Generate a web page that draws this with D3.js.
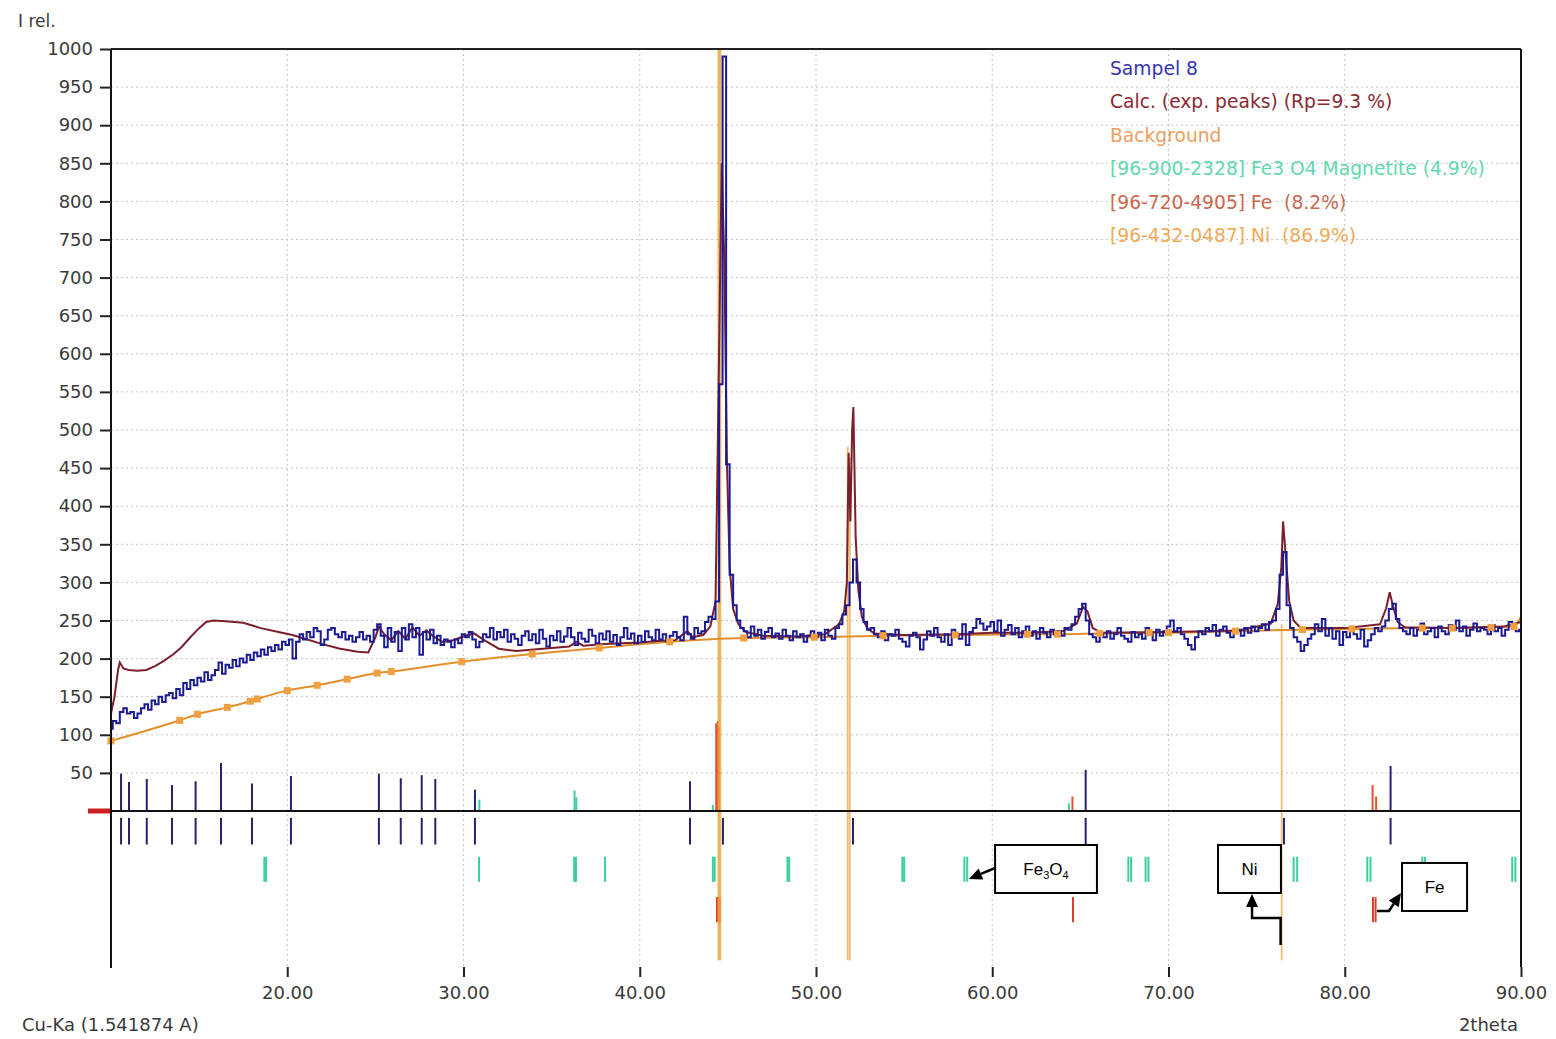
<!DOCTYPE html>
<html><head><meta charset="utf-8">
<script src="https://cdn.jsdelivr.net/npm/d3@7"></script>
<style>body{margin:0;background:#fff}svg{display:block}</style>
</head><body>
<svg id="c" width="1556" height="1039"></svg>
<script>
// ---------------- DATA ----------------
const obsStart = 10, obsStep = 0.2;
const observed = [
108,118,115,130,135,128,130,122,128,135,
140,133,145,140,150,143,152,155,148,160,
152,168,160,172,165,175,170,182,172,178,
185,195,180,192,188,198,190,200,195,205,
198,208,203,212,205,215,210,218,212,222,
218,225,200,222,232,225,235,228,240,236,
218,225,238,240,232,228,235,225,230,222,
228,235,225,230,222,238,245,230,215,240,
222,235,210,240,225,245,228,240,205,235,
225,238,220,230,218,225,222,215,225,220,
232,228,235,225,215,222,232,228,240,225,
235,228,238,222,232,226,218,230,236,224,
232,220,238,226,216,230,224,236,222,229,
240,228,218,234,226,222,238,230,220,233,
225,236,222,231,218,228,240,226,233,220,
230,222,236,228,224,238,225,232,222,230,
235,228,224,255,232,226,240,233,236,248,
255,252,275,560,990,455,310,270,250,240,
236,228,242,230,238,226,235,240,228,233,
226,238,230,224,236,228,232,222,230,236,
228,234,224,238,230,226,240,245,258,270,
300,330,300,265,248,238,240,232,228,236,
224,232,230,238,226,222,216,230,234,228,
212,225,236,230,240,228,222,232,218,238,
230,226,245,218,235,240,252,246,238,242,
248,236,250,230,238,244,232,240,228,236,
242,230,236,226,240,234,228,238,232,236,
230,240,238,245,255,265,272,250,232,228,
222,232,228,236,226,232,240,230,226,222,
235,228,232,226,240,232,224,238,230,236,
242,250,236,240,232,226,218,212,228,236,
232,240,236,244,230,238,242,234,228,236,
238,230,240,234,242,236,240,245,238,248,
250,265,310,340,270,240,228,222,210,218,
226,232,245,236,252,230,240,226,236,218,
235,228,240,232,226,238,216,224,232,240,
236,242,250,265,272,252,240,236,232,240,
230,238,246,232,236,240,228,242,236,232,
244,238,250,236,242,230,238,246,236,240,
238,232,244,236,240,230,238,248,244,236,
238];

const calcX = [10.0,10.2,10.4,10.5,10.7,11.0,11.5,12.0,12.5,13.0,13.5,14.0,14.5,15.0,15.4,15.8,16.5,17.5,18.5,19.5,20.3,21.0,22.0,23.0,24.0,24.6,25.0,25.2,25.5,25.9,26.3,26.7,27.1,27.5,27.9,28.3,28.8,29.4,30.0,30.6,31.2,32.0,33.0,34.0,35.0,36.0,36.4,36.8,38.0,39.0,40.0,41.0,42.0,42.7,43.0,43.6,44.0,44.3,44.5,44.65,44.8,44.95,45.1,45.3,45.6,46.0,47.0,49.0,50.5,51.3,51.6,51.75,51.85,51.95,52.05,52.12,52.25,52.4,52.6,52.9,53.3,55.0,58.0,60.0,62.0,64.0,64.8,65.15,65.4,65.7,66.2,70.0,74.0,75.8,76.2,76.4,76.5,76.65,76.85,77.1,77.5,80.0,82.0,82.35,82.55,82.75,83.0,83.4,86.0,89.0,90.0];
const calcY = [128,150,185,195,187,185,184,185,190,197,205,215,228,240,248,250,249,247,240,235,231,226,219,213,209,208,228,242,232,224,236,226,241,230,237,229,222,224,229,233,224,213,210,212,214,216,222,217,219,220,221,223,224,236,228,231,242,275,600,850,720,455,320,265,245,235,230,229,232,245,262,300,470,380,500,530,360,290,255,240,233,231,232,234,234,236,246,268,262,240,234,235,237,246,272,320,380,335,275,250,240,240,245,266,287,268,248,241,240,242,248];

const bgX = [10.0,13.9,14.9,16.6,17.9,18.3,20.0,21.7,23.4,25.1,25.9,29.9,33.9,37.7,41.7,45.9,49.9,53.8,57.9,62.0,63.7,66.1,68.9,70.0,73.8,77.6,80.4,84.4,86.1,88.3,89.6,90.0];
const bgY = [92,119,127,136,144,147,158,165,173,181,183,196,206,214,222,227,228,230,231,232,232,233,234,234,236,238,239,240,240,241,242,255];

// measured peak markers: position, visible height above zero (0 = hidden under phase lines)
const samplePeakPos = [10.57,11.02,12.03,13.46,14.8,16.24,18.0,20.21,25.2,26.44,27.63,28.4,30.65,42.85,44.72,52.1,65.3,76.55,82.6];
const samplePeakHeight = [49,38,42,34,39,63,36,46,49,43,47,42,28,39,0,0,54,0,59];

const magnetitePos = [18.70,18.80,30.88,36.28,36.38,38.03,44.15,44.25,48.38,48.48,54.9,55.0,58.42,58.58,67.72,67.88,68.7,68.86,77.1,77.3,81.28,81.46,84.4,84.55,89.5,89.68];
const magnetiteProfilePos = [30.9,36.3,36.4,44.15,64.35];
const magnetiteProfileHeight = [15,27,18,8,10];

const fePos = [44.38,44.46,44.54,64.58,81.6,81.75];
const feProfilePos = [44.34,44.42,44.5,64.55,81.58,81.78];
const feProfileHeight = [115,118,110,19,34,19];

const niPos = [44.46,44.52,44.58,51.8,51.92,76.42];
const niHeight = [1000,1000,1000,478,465,245];

const yTicks = [50,100,150,200,250,300,350,400,450,500,550,600,650,700,750,800,850,900,950,1000];
const xTicks = [20,30,40,50,60,70,80,90];
const xGrid = [20,30,40,50,60,70,80];

const legendLabels = ["Sampel 8","Calc. (exp. peaks) (Rp=9.3 %)","Background","[96-900-2328] Fe3 O4 Magnetite (4.9%)","[96-720-4905] Fe  (8.2%)","[96-432-0487] Ni  (86.9%)"];
const legendColors = ["#3535b0","#8a2a32","#eaa062","#62d8b0","#c86850","#efab58"];

// ---------------- CHART ----------------
(function () {
const svg = d3.select('#c');
const FONT = "'DejaVu Sans', Verdana, sans-serif";
const pLeft = 111, pRight = 1521, pTop = 49, zeroY = 811, pBottom = 967;
const x = d3.scaleLinear().domain([10, 90]).range([pLeft, pRight]);
const y = d3.scaleLinear().domain([0, 1000]).range([zeroY, pTop]);

// rows below zero (value units)
const sampleRow = [-9, -44], magRow = [-60, -93], feRow = [-113, -146], niBottom = -196;

const vline = (g, data, v1, v2, color, w) => g.selectAll(null).data(data).join('line')
  .attr('x1', d => x(d)).attr('x2', d => x(d)).attr('y1', v1).attr('y2', v2)
  .attr('stroke', color).attr('stroke-width', w);

// grid
svg.append('g').selectAll('line').data(yTicks.filter(d => d < 1000)).join('line')
  .attr('x1', pLeft).attr('x2', pRight).attr('y1', d => y(d)).attr('y2', d => y(d))
  .attr('stroke', '#c4c4c4').attr('stroke-width', 1).attr('stroke-dasharray', '2,3');
svg.append('g').selectAll('line').data(xGrid).join('line')
  .attr('x1', d => x(d)).attr('x2', d => x(d)).attr('y1', pTop).attr('y2', pBottom)
  .attr('stroke', '#c4c4c4').attr('stroke-width', 1).attr('stroke-dasharray', '2,3');

// sample sticks above zero
vline(svg.append('g'), samplePeakPos, y(0), (d, i) => y(samplePeakHeight[i]), '#23236e', 2);

// magnetite sticks & profile
vline(svg.append('g'), magnetitePos, y(magRow[0]), y(magRow[1]), '#3ccf9e', 2);
vline(svg.append('g'), magnetiteProfilePos, y(0), (d, i) => y(magnetiteProfileHeight[i]), '#3ccf9e', 2);

// Fe sticks & profile
vline(svg.append('g'), fePos, y(feRow[0]), y(feRow[1]), '#d8402a', 2);
vline(svg.append('g'), feProfilePos, y(0), (d, i) => y(feProfileHeight[i]), '#e4502a', 2);

// Ni lines
vline(svg.append('g'), niPos, y(niBottom), (d, i) => y(niHeight[i]), '#eaa540', 1.8)
  .attr('stroke-opacity', 0.75);

// sample sticks row below zero
vline(svg.append('g'), samplePeakPos, y(sampleRow[0]), y(sampleRow[1]), '#23236e', 2);

// background
const bgPts = bgX.map((v, i) => [v, bgY[i]]);
svg.append('path').datum(bgPts)
  .attr('d', d3.line().x(d => x(d[0])).y(d => y(d[1])).curve(d3.curveMonotoneX))
  .attr('fill', 'none').attr('stroke', '#e2902c').attr('stroke-width', 2);

// calc
const calcPts = calcX.map((v, i) => [v, calcY[i]]);
svg.append('path').datum(calcPts)
  .attr('d', d3.line().x(d => x(d[0])).y(d => y(d[1])))
  .attr('fill', 'none').attr('stroke', '#7b1f2c').attr('stroke-width', 2);

// observed
const obsPts = observed.map((v, i) => [obsStart + i * obsStep, v]);
svg.append('path').datum(obsPts)
  .attr('d', d3.line().x(d => x(d[0])).y(d => y(d[1])).curve(d3.curveStep))
  .attr('fill', 'none').attr('stroke', '#1a1a94').attr('stroke-width', 2);

// background markers
svg.append('g').selectAll('rect').data(bgPts.slice(0, -1)).join('rect')
  .attr('x', d => x(d[0]) - 3.5).attr('y', d => y(d[1]) - 3.5).attr('width', 7).attr('height', 7)
  .attr('fill', '#f0a040');

// zero line & red mark
svg.append('line').attr('x1', pLeft).attr('x2', pRight).attr('y1', y(0)).attr('y2', y(0))
  .attr('stroke', '#111').attr('stroke-width', 2);
svg.append('line').attr('x1', 88).attr('x2', pLeft).attr('y1', y(0)).attr('y2', y(0))
  .attr('stroke', '#cc2020').attr('stroke-width', 5);

// frame
svg.append('line').attr('x1', pLeft).attr('x2', pRight).attr('y1', pTop).attr('y2', pTop).attr('stroke', '#222').attr('stroke-width', 2);
svg.append('line').attr('x1', pLeft).attr('x2', pLeft).attr('y1', pTop).attr('y2', pBottom + 1).attr('stroke', '#111').attr('stroke-width', 2);
svg.append('line').attr('x1', pRight).attr('x2', pRight).attr('y1', pTop).attr('y2', pBottom).attr('stroke', '#111').attr('stroke-width', 2);

// axes
const yAxis = svg.append('g').attr('transform', `translate(${pLeft},0)`)
  .call(d3.axisLeft(y).tickValues(yTicks).tickSize(11).tickPadding(7).tickFormat(d3.format('d')));
const xAxis = svg.append('g').attr('transform', `translate(0,${pBottom})`)
  .call(d3.axisBottom(x).tickValues(xTicks).tickSize(10).tickPadding(9).tickFormat(d => d.toFixed(2)));
[yAxis, xAxis].forEach(a => {
  a.select('.domain').remove();
  a.selectAll('line').attr('stroke', '#222').attr('stroke-width', 2);
  a.selectAll('text').attr('font-family', FONT).attr('font-size', 18).attr('fill', '#3a3a3a');
});

// labels
const txt = (t, px, py, anchor, size, col) => svg.append('text').attr('x', px).attr('y', py)
  .attr('text-anchor', anchor || 'start').attr('font-family', FONT).attr('font-size', size || 18)
  .attr('fill', col || '#3a3a3a').text(t);
txt('I rel.', 18, 27, 'start', 17);
txt('Cu-Ka (1.541874 A)', 22, 1031);
txt('2theta', 1518, 1031, 'end');

// legend
legendLabels.forEach((l, i) => txt(l, 1110, 75 + i * 33.4, 'start', 18.7, legendColors[i]).attr('xml:space', 'preserve'));

// annotations (data units)
const boxes = [
  {label: ['Fe', '3', 'O', '4'], x0: 60.16, x1: 65.94, v0: -44.6, v1: -107.6, path: [[60.16, -74.8], [58.68, -89.2]]},
  {label: ['Ni'], x0: 72.81, x1: 76.38, v0: -44.6, v1: -107.6, path: [[76.36, -175.9], [76.36, -140.4], [74.74, -140.4], [74.74, -109]]},
  {label: ['Fe'], x0: 83.25, x1: 86.94, v0: -68.2, v1: -131.2, path: [[81.83, -131.2], [82.51, -131.2], [83.19, -107.6]]}
];
const ann = svg.append('g');
boxes.forEach(b => {
  ann.append('rect').attr('x', x(b.x0)).attr('y', y(b.v0)).attr('width', x(b.x1) - x(b.x0)).attr('height', y(b.v1) - y(b.v0))
    .attr('fill', '#fff').attr('stroke', '#000').attr('stroke-width', 2);
  const t = ann.append('text').attr('x', (x(b.x0) + x(b.x1)) / 2).attr('y', (y(b.v0) + y(b.v1)) / 2 + 6)
    .attr('text-anchor', 'middle').attr('font-family', "'Liberation Sans', Arial, sans-serif").attr('font-size', 17).attr('fill', '#000');
  b.label.forEach((s, i) => {
    const sp = t.append('tspan').text(s);
    if (i % 2 === 1) sp.attr('font-size', 11).attr('dy', 4);
    else if (i > 0) sp.attr('dy', -4);
  });
  const pts = b.path.map(p => [x(p[0]), y(p[1])]);
  const n = pts.length;
  const tip = pts[n - 1], prev = pts[n - 2];
  const ang = Math.atan2(tip[1] - prev[1], tip[0] - prev[0]);
  const L = 13, Wd = 6;
  const base = [tip[0] - L * Math.cos(ang), tip[1] - L * Math.sin(ang)];
  ann.append('path').attr('d', d3.line()(pts.slice(0, n - 1).concat([base])))
    .attr('fill', 'none').attr('stroke', '#000').attr('stroke-width', 2.5);
  const p1 = [base[0] + Wd * Math.sin(ang), base[1] - Wd * Math.cos(ang)];
  const p2 = [base[0] - Wd * Math.sin(ang), base[1] + Wd * Math.cos(ang)];
  ann.append('path').attr('d', `M${tip[0]},${tip[1]}L${p1[0]},${p1[1]}L${p2[0]},${p2[1]}Z`).attr('fill', '#000');
});
})();
</script>
</body></html>
